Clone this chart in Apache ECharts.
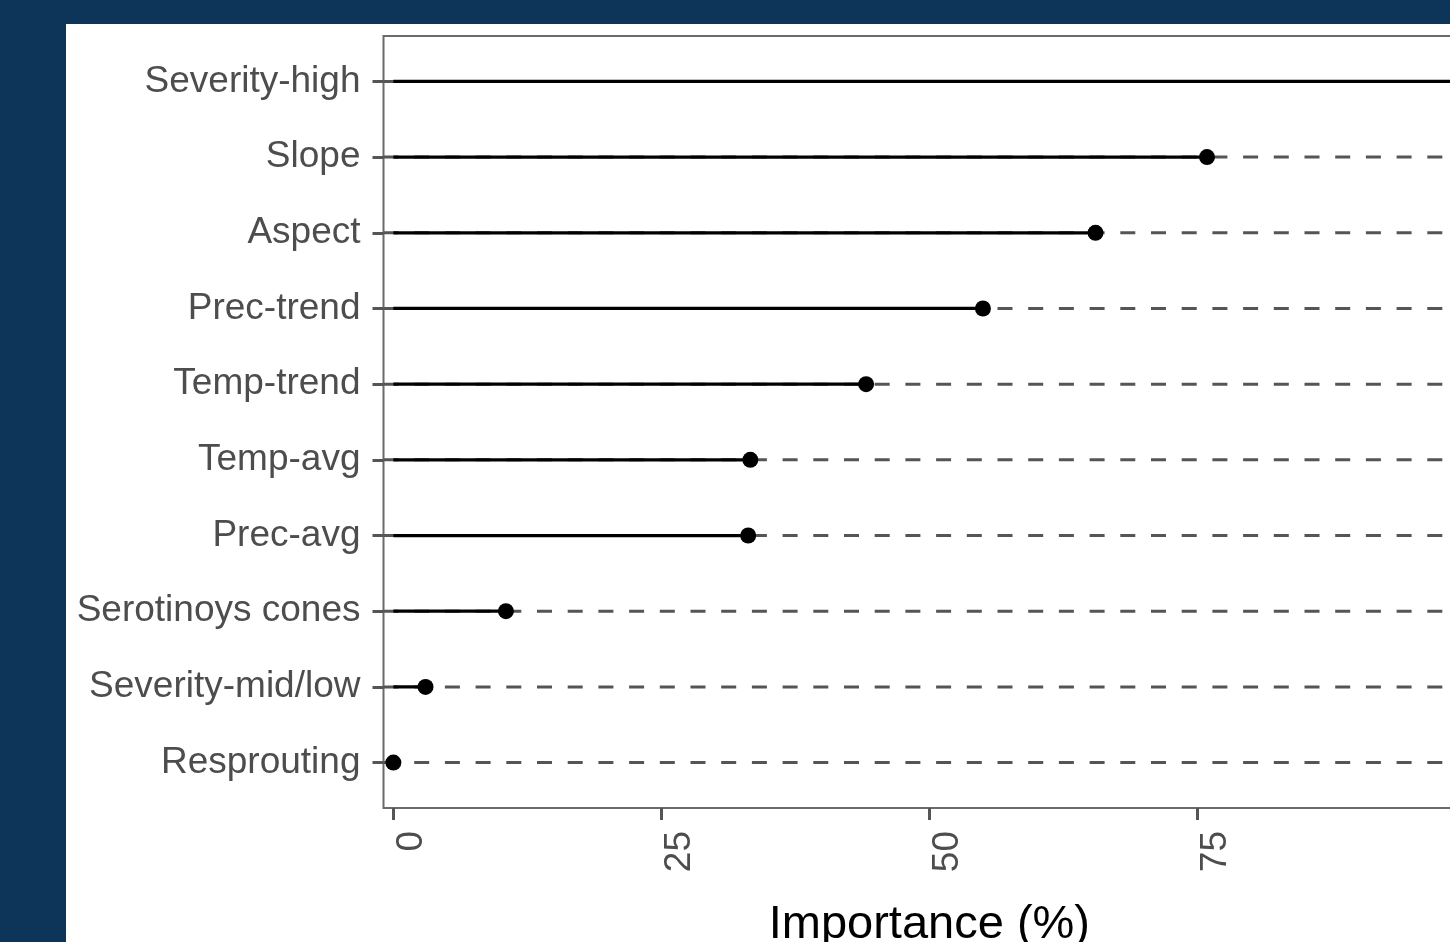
<!DOCTYPE html>
<html>
<head>
<meta charset="utf-8">
<script src="https://cdn.jsdelivr.net/npm/echarts@6/dist/echarts.min.js"></script>
<style>
  html, body { margin: 0; padding: 0; overflow: hidden; background: #0d3459; width: 1450px; height: 942px; }
  #chart { position: absolute; left: 66px; top: 24px; width: 1440px; height: 918px; background: #fff; }
</style>
</head>
<body>
<div id="chart"></div>
<script>
/* ── Data ── */
const VARIABLES = ['Severity-high', 'Slope', 'Aspect', 'Prec-trend', 'Temp-trend',
                   'Temp-avg', 'Prec-avg', 'Serotinoys cones', 'Severity-mid/low', 'Resprouting'];
const IMPORTANCE = [100, 75.9, 65.5, 55.0, 44.1, 33.3, 33.1, 10.5, 3.0, 0.0];
const X_TICKS = [0, 25, 50, 75, 100];

/* ── Axis extents ── */
const X_MIN = -0.92, X_MAX = 100.92, LINE_END = 100;
const ROW_IDX = VARIABLES.map((_, i) => i);

const TEXT_GREY = '#4d4d4d';
const FONT = '"Liberation Sans", Arial, sans-serif';

const chart = echarts.init(document.getElementById('chart'), null, { renderer: 'canvas' });

chart.setOption({
    animation: false,
    grid: {
        left: 317.5, top: 12, width: 1091.7, height: 772,
        outerBoundsMode: 'none',
        show: true, borderColor: '#6a6a6a', borderWidth: 2, backgroundColor: 'transparent',
    },
    xAxis: {
        type: 'value',
        min: X_MIN,
        max: X_MAX,
        axisLine: { show: false, onZero: false },
        splitLine: { show: false },
        axisTick: { customValues: X_TICKS, length: 12, lineStyle: { color: '#555', width: 3 } },
        axisLabel: {
            customValues: X_TICKS,
            rotate: 90,
            align: 'right',
            verticalAlign: 'top',
            margin: 23,
            fontSize: 37,
            fontFamily: FONT,
            color: TEXT_GREY,
        },
        name: 'Importance (%)',
        nameLocation: 'middle',
        nameGap: 94,
        nameTextStyle: { fontSize: 47, fontFamily: FONT, color: '#000' },
    },
    yAxis: {
        type: 'value',
        inverse: true,
        min: -0.6,
        max: 9.6,
        axisLine: { show: false, onZero: false },
        splitLine: { show: false },
        axisTick: { customValues: ROW_IDX, length: 11, lineStyle: { color: '#555', width: 3 } },
        axisLabel: {
            customValues: ROW_IDX,
            formatter: (v) => VARIABLES[Math.round(v)],
            margin: 23,
            padding: [5, 0, 0, 0],
            fontSize: 37,
            fontFamily: FONT,
            color: TEXT_GREY,
        },
    },
    series: [
        {
            // dashed reference line across the panel + solid stem from 0 to value
            type: 'custom',
            clip: true,
            encode: { x: 0, y: 1 },
            data: IMPORTANCE.map((v, i) => [v, i]),
            renderItem: (params, api) => {
                const v = api.value(0), row = api.value(1);
                const a = api.coord([X_MIN, row]);
                const b = api.coord([LINE_END, row]);
                const z = api.coord([0, row]);
                const e = api.coord([v, row]);
                return {
                    type: 'group',
                    children: [
                        {
                            type: 'line',
                            shape: { x1: a[0], y1: a[1], x2: b[0], y2: b[1] },
                            style: { stroke: '#555', lineWidth: 3, lineDash: [15, 15.7] },
                        },
                        {
                            type: 'line',
                            shape: { x1: z[0], y1: z[1], x2: e[0], y2: e[1] },
                            style: { stroke: '#000', lineWidth: 3.2 },
                        },
                    ],
                };
            },
            z: 2,
        },
        {
            type: 'scatter',
            symbol: 'circle',
            symbolSize: 16,
            itemStyle: { color: '#000', opacity: 1 },
            data: IMPORTANCE.map((v, i) => [v, i]),
            z: 3,
        },
    ],
});
</script>
</body>
</html>
